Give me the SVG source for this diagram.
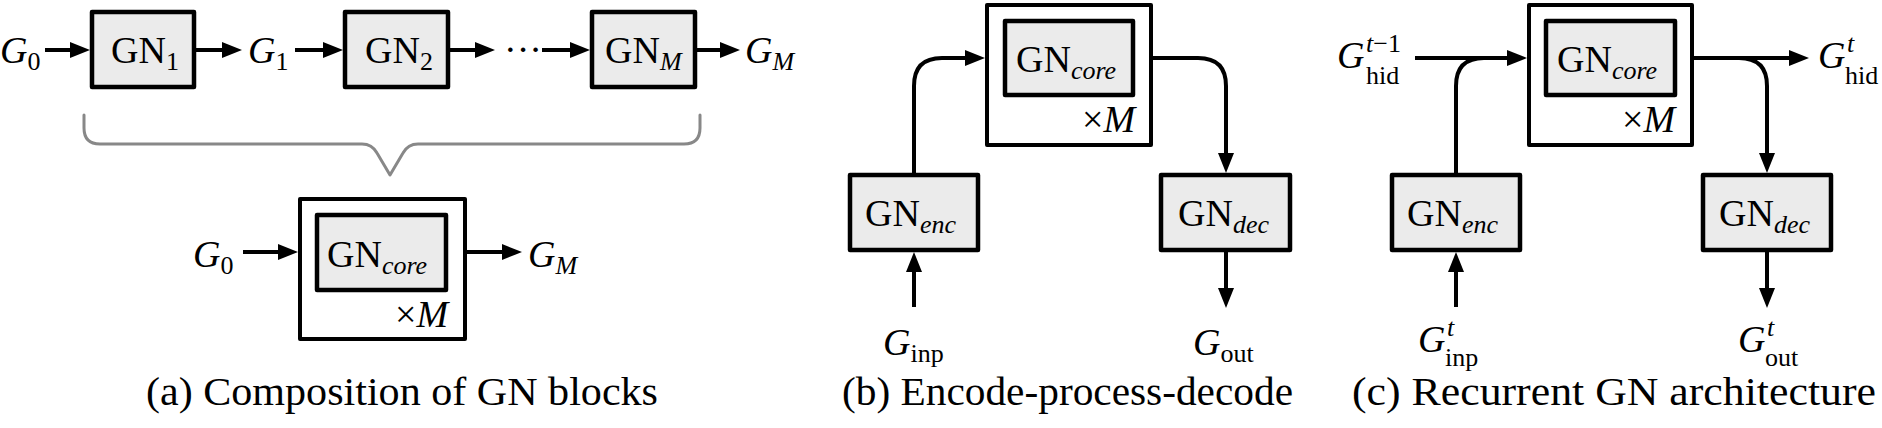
<svg xmlns="http://www.w3.org/2000/svg" width="1882" height="428" viewBox="0 0 1882 428">
<style>
  text { font-family: Liberation Serif, DejaVu Serif, serif; fill: #000; }
  .lbl { font-size: 38px; }
  .sub { font-size: 26px; }
  .cap { font-size: 40px; }
  .it { font-style: italic; }
  .box { fill: #ebebeb; stroke: #000; stroke-width: 4.5; stroke-linejoin: round; }
  .outer { fill: #fff; stroke: #000; stroke-width: 4; stroke-linejoin: round; }
  .edge { fill: none; stroke: #000; stroke-width: 4; }
  .brace { fill: none; stroke: #888; stroke-width: 3; stroke-linejoin: round; stroke-linecap: round; }
</style>
<defs>
  <marker id="arr" markerUnits="userSpaceOnUse" markerWidth="22" markerHeight="18" refX="10" refY="8" orient="auto">
    <path d="M0,0 L20,8 L0,16 z" fill="#000"/>
  </marker>
</defs>

<!-- Panel (a) -->
<g id="a-G0"><text class="lbl" x="0" y="63"><tspan class="it">G</tspan><tspan class="sub" dy="7">0</tspan></text></g>
<g id="a-GN1"><rect class="box" x="92" y="12" width="102" height="75"/><text class="lbl" x="111" y="63">GN<tspan class="sub" dy="7">1</tspan></text></g>
<g id="a-G1"><text class="lbl" x="248" y="63"><tspan class="it">G</tspan><tspan class="sub" dy="7">1</tspan></text></g>
<g id="a-GN2"><rect class="box" x="345" y="12" width="103" height="75"/><text class="lbl" x="365" y="63">GN<tspan class="sub" dy="7">2</tspan></text></g>
<g id="a-dots"><text class="lbl" x="504" y="62">···</text></g>
<g id="a-GNM"><rect class="box" x="592" y="12" width="103" height="75"/><text class="lbl" x="605" y="63">GN<tspan class="sub it" dy="7">M</tspan></text></g>
<g id="a-GM"><text class="lbl" x="745" y="63"><tspan class="it">G</tspan><tspan class="sub it" dy="7">M</tspan></text></g>
<g id="a-brace"><path class="brace" d="M84,115 V128 Q84,144 100,144 H362 Q372,144 377,153 L390,175 L403,153 Q408,144 418,144 H684 Q700,144 700,128 V115"/></g>
<g id="a-core">
  <rect class="outer" x="300" y="199" width="165" height="140"/>
  <rect class="box" x="317" y="215" width="129" height="75"/>
  <text class="lbl" x="327" y="267">GN<tspan class="sub it" dy="7">core</tspan></text>
  <text class="lbl" x="395" y="327">×<tspan class="it">M</tspan></text>
</g>
<g id="a-G0b"><text class="lbl" x="193" y="267"><tspan class="it">G</tspan><tspan class="sub" dy="7">0</tspan></text></g>
<g id="a-GMb"><text class="lbl" x="528" y="267"><tspan class="it">G</tspan><tspan class="sub it" dy="7">M</tspan></text></g>
<text class="cap" x="146" y="405" textLength="512" lengthAdjust="spacingAndGlyphs">(a) Composition of GN blocks</text>

<!-- Panel (b) -->
<g id="b-core">
  <rect class="outer" x="987" y="5" width="164" height="140"/>
  <rect class="box" x="1005" y="21" width="128" height="74"/>
  <text class="lbl" x="1016" y="72">GN<tspan class="sub it" dy="7">core</tspan></text>
  <text class="lbl" x="1082" y="132">×<tspan class="it">M</tspan></text>
</g>
<g id="b-enc"><rect class="box" x="850" y="175" width="128" height="75"/><text class="lbl" x="865" y="226">GN<tspan class="sub it" dy="7">enc</tspan></text></g>
<g id="b-dec"><rect class="box" x="1161" y="175" width="129" height="75"/><text class="lbl" x="1178" y="226">GN<tspan class="sub it" dy="7">dec</tspan></text></g>
<g id="b-Ginp"><text class="lbl" x="883" y="355"><tspan class="it">G</tspan><tspan class="sub" dy="7">inp</tspan></text></g>
<g id="b-Gout"><text class="lbl" x="1193" y="355"><tspan class="it">G</tspan><tspan class="sub" dy="7">out</tspan></text></g>
<text class="cap" x="842" y="405" textLength="451" lengthAdjust="spacingAndGlyphs">(b) Encode-process-decode</text>

<!-- Panel (c) -->
<g id="c-core">
  <rect class="outer" x="1529" y="5" width="163" height="140"/>
  <rect class="box" x="1546" y="21" width="129" height="74"/>
  <text class="lbl" x="1557" y="72">GN<tspan class="sub it" dy="7">core</tspan></text>
  <text class="lbl" x="1622" y="132">×<tspan class="it">M</tspan></text>
</g>
<g id="c-enc"><rect class="box" x="1392" y="175" width="128" height="75"/><text class="lbl" x="1407" y="226">GN<tspan class="sub it" dy="7">enc</tspan></text></g>
<g id="c-dec"><rect class="box" x="1703" y="175" width="128" height="75"/><text class="lbl" x="1719" y="226">GN<tspan class="sub it" dy="7">dec</tspan></text></g>
<g id="c-Ghid-prev"><text class="lbl it" x="1337" y="68">G</text><text class="sub it" x="1366" y="52">t<tspan font-style="normal">−1</tspan></text><text class="sub" x="1366" y="84">hid</text></g>
<g id="c-Ghid"><text class="lbl it" x="1818" y="68">G</text><text class="sub it" x="1847" y="52">t</text><text class="sub" x="1845" y="84">hid</text></g>
<g id="c-Ginp"><text class="lbl it" x="1418" y="352">G</text><text class="sub it" x="1447" y="336">t</text><text class="sub" x="1445" y="366">inp</text></g>
<g id="c-Gout"><text class="lbl it" x="1738" y="352">G</text><text class="sub it" x="1767" y="336">t</text><text class="sub" x="1765" y="366">out</text></g>
<text class="cap" x="1352" y="405" textLength="524" lengthAdjust="spacingAndGlyphs">(c) Recurrent GN architecture</text>

<!-- Connectors -->
<g id="connectors">
  <path class="edge" d="M45,50 H80" marker-end="url(#arr)"/>
  <path class="edge" d="M196,50 H232" marker-end="url(#arr)"/>
  <path class="edge" d="M295,50 H333" marker-end="url(#arr)"/>
  <path class="edge" d="M450,50 H485" marker-end="url(#arr)"/>
  <path class="edge" d="M542,50 H580" marker-end="url(#arr)"/>
  <path class="edge" d="M697,50 H730" marker-end="url(#arr)"/>
  <path class="edge" d="M243,252 H288" marker-end="url(#arr)"/>
  <path class="edge" d="M467,252 H512" marker-end="url(#arr)"/>

  <path class="edge" d="M914,175 V86 Q914,58 942,58 H975" marker-end="url(#arr)"/>
  <path class="edge" d="M1151,58 H1198 Q1226,58 1226,86 V163" marker-end="url(#arr)"/>
  <path class="edge" d="M914,307 V262" marker-end="url(#arr)"/>
  <path class="edge" d="M1226,250 V298" marker-end="url(#arr)"/>

  <path class="edge" d="M1415,58 H1517" marker-end="url(#arr)"/>
  <path class="edge" d="M1456,175 V86 Q1456,58 1484,58"/>
  <path class="edge" d="M1692,58 H1799" marker-end="url(#arr)"/>
  <path class="edge" d="M1739,58 Q1767,58 1767,86 V163" marker-end="url(#arr)"/>
  <path class="edge" d="M1456,307 V262" marker-end="url(#arr)"/>
  <path class="edge" d="M1767,250 V298" marker-end="url(#arr)"/>
</g>
</svg>
